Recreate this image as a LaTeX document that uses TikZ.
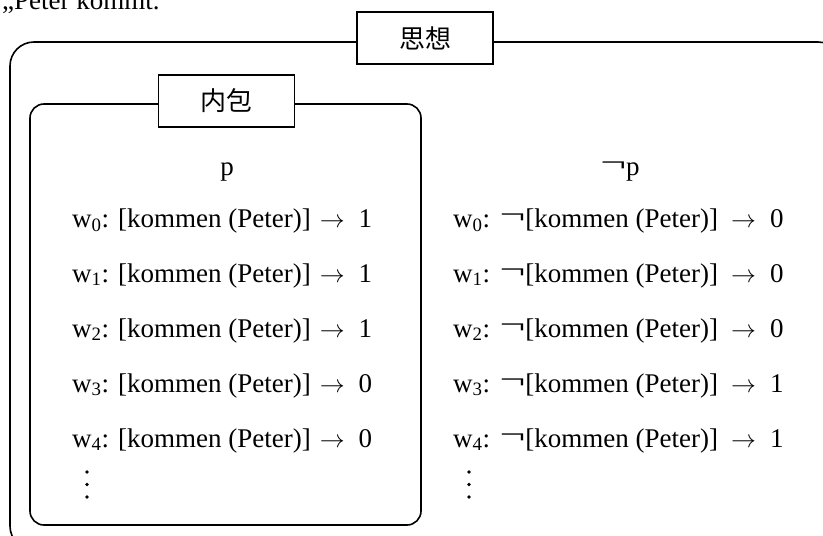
\documentclass[tikz,border=0pt]{standalone}
\usepackage{fontspec}
\usepackage{graphicx}
\setmainfont{Liberation Serif}
\newfontfamily\cjk{Noto Sans CJK JP}
\newcommand{\ngsign}{\raisebox{4pt}{\scalebox{1.7}[1]{¬}}}
\newcommand{\arr}{$\rightarrow$}
\newcommand{\rowL}[2]{w\textsubscript{#1}: [kommen (Peter)]\hspace{9pt}\arr\hspace{14pt}#2}
\newcommand{\rowR}[2]{w\textsubscript{#1}:\hspace{0.35em}\ngsign[kommen (Peter)]\hspace{13pt}\arr\hspace{14pt}#2}
\begin{document}
\begin{tikzpicture}[x=1pt,y=-1pt,
  frame/.style={draw, line width=1.6pt, rounded corners=#1},
  titlebox/.style={draw, fill=white, line width=1.4pt, minimum width=136pt,
    minimum height=52pt, inner sep=0pt, font=\cjk\fontsize{26}{30}\selectfont},
  rowtext/.style={anchor=base west, inner sep=0pt, font=\fontsize{27}{32}\selectfont},
  headtext/.style={anchor=base, inner sep=0pt, font=\fontsize{27}{32}\selectfont},
  dotmark/.style={fill, circle, inner sep=0pt, minimum size=3.6pt}]
\useasboundingbox (0,0) rectangle (823,536);
% quoted sentence, cut at the top
\node[rowtext] (quote) at (2,9) {„Peter kommt.};
% outer frame
\draw[frame=24] (10,42) rectangle (842,550);
\node[titlebox] (sx) at (425,38) {思想};
% inner frame
\draw[frame=14] (30,104) rectangle (421,525);
\node[titlebox] (nb) at (226.5,101) {内包};
% left column
\node[headtext] (p) at (227,175) {p};
\node[rowtext] (l0) at (72,227) {\rowL{0}{1}};
\node[rowtext] (l1) at (72,282) {\rowL{1}{1}};
\node[rowtext] (l2) at (72,337) {\rowL{2}{1}};
\node[rowtext] (l3) at (72,392) {\rowL{3}{0}};
\node[rowtext] (l4) at (72,447) {\rowL{4}{0}};
\node[dotmark] (ld1) at (87,472) {};
\node[dotmark] (ld2) at (87,484.5) {};
\node[dotmark] (ld3) at (87,497) {};
% right column
\node[headtext] (np) at (620,175) {\ngsign p};
\node[rowtext] (r0) at (453,227) {\rowR{0}{0}};
\node[rowtext] (r1) at (453,282) {\rowR{1}{0}};
\node[rowtext] (r2) at (453,337) {\rowR{2}{0}};
\node[rowtext] (r3) at (453,392) {\rowR{3}{1}};
\node[rowtext] (r4) at (453,447) {\rowR{4}{1}};
\node[dotmark] (rd1) at (469,472) {};
\node[dotmark] (rd2) at (469,484.5) {};
\node[dotmark] (rd3) at (469,497) {};
\end{tikzpicture}
\end{document}
